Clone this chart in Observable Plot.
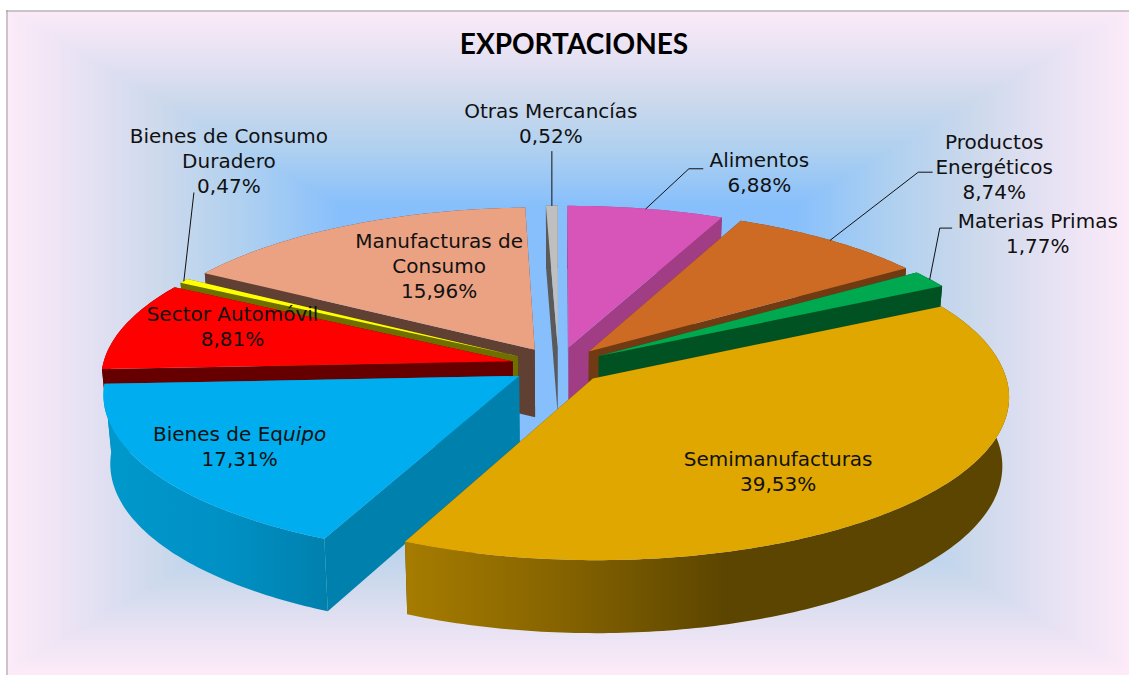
<!DOCTYPE html>
<html lang="es">
<head>
<meta charset="utf-8">
<script src="https://cdn.jsdelivr.net/npm/d3@7"></script>
<script src="https://cdn.jsdelivr.net/npm/@observablehq/plot@0.6"></script>
<style>html,body{margin:0;padding:0;background:#fff}svg{display:block}</style>
</head>
<body>
<div id="chart"></div>
<script>
// ---- data ----
const categories = ["Alimentos","Productos\nEnergéticos","Materias Primas","Semimanufacturas","Bienes de Equipo","Sector Automóvil","Bienes de Consumo\nDuradero","Manufacturas de\nConsumo","Otras Mercancías"];
const shares = [6.88,8.74,1.77,39.53,17.31,8.81,0.47,15.96,0.52];
const topColors = ["#d755b8","#cd6b25","#00a84f","#dfa700","#00aeef","#ff0000","#ffff00","#eba283","#bfbfbf"];
const sideColors = ["#a03d85","#703a12","#005223","url(#wallSemi)","url(#wallEquipo)","#660000","#6f6f00","#5f4033","#5a5a5a"];
const cutColors = ["#a03d85","#703a12","#005223","#5c4500","#0080ad","#660000","#6f6f00","#5f4033","#5a5a5a"];
// painter's order, back to front
const drawOrder = [8,0,1,2,7,6,5,4,3];
// how much of each slice's wall is drawn (the red one is almost all behind the blue one)
const wallShare = [1,1,1,1,1,0.3,1,1,1];
// label offsets from the middle of each slice's rim
const labelOffsets = [[113.5,-35],[164,-72],[108,-45],[-138,-28],[86,-25],[108,2],[45,-119],[91,42],[-1,-81]];
// leader elbows relative to the rim (null = no leader)
const leaderElbows = [[[43,-40],[57,-40]],[[88,-68],[102,-68]],[[10,-51],[22,-51]],null,null,null,[[10,-88]],null,[[0,-54]]];

// ---- pie geometry ----
const view = {cx:558, cy:365, R:410, Ry:161.5, perspBack:0.1, perspFront:0.108, shrink:0.985, depth:69, explode:0.115};
const total = d3.sum(shares);
const cum = d3.cumsum(shares);
const slices = shares.map((v,i)=>{
  const a0 = (cum[i]-v)/total*2*Math.PI, a1 = cum[i]/total*2*Math.PI;
  return {i, a0, a1, mid:(a0+a1)/2};
});
function project(u,v,z){
  let s = 1 - (v>0?view.perspBack:view.perspFront)*v;
  s *= 1-(1-view.shrink)*z;
  return {x:view.cx+view.R*u*s, y:view.cy-view.Ry*v*s+view.depth*z*s};
}
const apexOf = sl => [view.explode*Math.sin(sl.mid), view.explode*Math.cos(sl.mid)];
function pt(sl,a,r,z){
  const [eu,ev]=apexOf(sl);
  return project(eu+r*Math.sin(a), ev+r*Math.cos(a), z);
}
function arc(sl,z){
  const n = Math.max(4,Math.ceil((sl.a1-sl.a0)/0.015));
  return d3.range(n+1).map(k=>pt(sl,sl.a0+(sl.a1-sl.a0)*k/n,1,z));
}
const poly = (pts,fill)=>Plot.line(pts,{x:"x",y:"y",fill,stroke:"none",curve:"linear"});

const marks = [];
// background: rectangular path gradient
marks.push(Plot.raster({x1:6,y1:10,x2:1129,y2:675,pixelSize:2,
  fill:(x,y)=>Math.max(Math.abs(x-567)/562,Math.abs(y-340)/331)}));
marks.push(Plot.ruleX([6.5],{y1:10,y2:675,stroke:"#999",strokeWidth:1}));
marks.push(Plot.ruleY([10.5],{x1:6,x2:1129,stroke:"#999",strokeWidth:1}));
// gradients for the two walls
marks.push(()=>{
  const defs=d3.create("svg:defs");
  const g1=defs.append("linearGradient").attr("id","wallSemi");
  [[0,"#a67c00"],[0.26,"#856300"],[0.53,"#5c4500"],[1,"#5c4500"]].forEach(([o,c])=>g1.append("stop").attr("offset",o).attr("stop-color",c));
  const g2=defs.append("linearGradient").attr("id","wallEquipo");
  [[0,"#0098cc"],[0.55,"#0090c4"],[1,"#0080ad"]].forEach(([o,c])=>g2.append("stop").attr("offset",o).attr("stop-color",c));
  return defs.node();
});
// slices
for (const idx of drawOrder){
  const sl=slices[idx], z=wallShare[idx];
  const [eu,ev]=apexOf(sl);
  const apexT=project(eu,ev,0), apexB=project(eu,ev,z);
  const cut=a=>[apexT,pt(sl,a,1,0),pt(sl,a,1,z),apexB];
  marks.push(poly(cut(sl.a0),cutColors[idx]));
  marks.push(poly(cut(sl.a1),cutColors[idx]));
  marks.push(poly([...arc(sl,0),...arc(sl,z).reverse()],sideColors[idx]));
  marks.push(poly([apexT,...arc(sl,0)],topColors[idx]));
}
// leaders and labels
const fmt = v=>v.toFixed(2).replace(".",",")+"%";
const rimMid = slices.map(sl=>pt(sl,sl.mid,1,0));
leaderElbows.forEach((el,i)=>{
  if(!el) return;
  const r=rimMid[i];
  marks.push(Plot.line([r,...el.map(([dx,dy])=>({x:r.x+dx,y:r.y+dy}))],{x:"x",y:"y",stroke:"#111",strokeWidth:1,curve:"linear"}));
});
const labels = categories.map((c,i)=>({text:c+"\n"+fmt(shares[i]),x:rimMid[i].x+labelOffsets[i][0],y:rimMid[i].y+labelOffsets[i][1]}));
marks.push(Plot.text(labels,{x:"x",y:"y",text:"text",dy:-2,fill:"#111",fontSize:20,lineHeight:1.25,fontFamily:"DejaVu Sans",textAnchor:"middle"}));
marks.push(Plot.text(["EXPORTACIONES"],{frameAnchor:"top",dx:9,dy:34,lineAnchor:"top",fontFamily:"Lato",fontWeight:"bold",fontSize:28,fill:"#000"}));

const chart = Plot.plot({
  width:1129,height:675,margin:0,
  x:{domain:[0,1129],range:[0,1129],axis:null},
  y:{domain:[0,675],range:[0,675],axis:null},
  color:{type:"linear",domain:[0.4,0.57,0.725,0.876,1],range:["#86bffc","#aed0f0","#cdd9ec","#e9e3f4","#fdebf8"],interpolate:"rgb",clamp:true},
  style:{background:"#fff"},
  marks
});
document.getElementById("chart").append(chart);
// "Equipo" is partly italic in the original
chart.querySelectorAll("tspan").forEach(t=>{
  if(t.textContent==="Bienes de Equipo") t.innerHTML='Bienes de Eq<tspan font-style="italic">uipo</tspan>';
});
</script>
</body>
</html>
